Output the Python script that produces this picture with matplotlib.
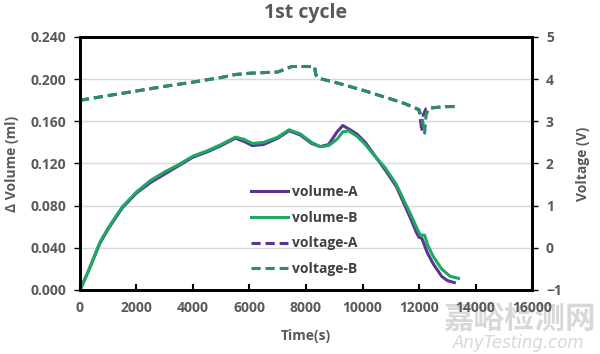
import matplotlib
matplotlib.use('Agg')
import matplotlib.pyplot as plt

# ---- data ----
t_vol_a = [0, 300, 700, 1000, 1500, 2000, 2500, 3000, 3500, 4000, 4500, 5000, 5500, 5800,
           6100, 6500, 7000, 7400, 7800, 8200, 8500, 8800, 9100, 9300, 9500, 9800, 10100,
           10500, 10800, 11200, 11500, 11700, 11900, 12000, 12100, 12300, 12500, 12800, 13000, 13250]
vol_a = [0, 0.018, 0.044, 0.058, 0.078, 0.092, 0.102, 0.110, 0.118, 0.126, 0.131, 0.137, 0.144,
         0.141, 0.137, 0.138, 0.144, 0.151, 0.147, 0.139, 0.136, 0.138, 0.150, 0.156, 0.153,
         0.148, 0.140, 0.125, 0.114, 0.098, 0.080, 0.068, 0.055, 0.050, 0.049, 0.035, 0.025,
         0.013, 0.009, 0.007]

t_vol_b = [0, 300, 700, 1000, 1500, 2000, 2500, 3000, 3500, 4000, 4500, 5000, 5500, 5800,
           6100, 6500, 7000, 7400, 7800, 8200, 8500, 8800, 9100, 9300, 9500, 9800, 10100,
           10500, 10800, 11200, 11500, 11700, 11900, 12050, 12200, 12300, 12500, 12800, 13100, 13400]
vol_b = [0, 0.018, 0.045, 0.059, 0.079, 0.093, 0.104, 0.112, 0.119, 0.127, 0.132, 0.138, 0.145,
         0.143, 0.139, 0.140, 0.145, 0.152, 0.148, 0.140, 0.136, 0.137, 0.143, 0.150, 0.151,
         0.146, 0.138, 0.125, 0.116, 0.100, 0.083, 0.072, 0.060, 0.052, 0.052, 0.043, 0.032,
         0.020, 0.013, 0.011]

t_volt_a = [0, 1000, 2000, 3000, 4000, 5000, 5500, 6000, 7000, 7300, 7500, 8300, 8350, 8450,
            9000, 10000, 11000, 11500, 12000, 12050, 12100, 12150, 12250, 12600, 13000, 13400]
volt_a = [3.50, 3.61, 3.72, 3.83, 3.93, 4.04, 4.11, 4.14, 4.17, 4.25, 4.30, 4.30, 4.10, 4.02,
          3.93, 3.74, 3.53, 3.42, 3.28, 3.05, 2.75, 3.15, 3.30, 3.33, 3.35, 3.35]

t_volt_b = [0, 1000, 2000, 3000, 4000, 5000, 5500, 6000, 7000, 7300, 7500, 8300, 8350, 8450,
            9000, 10000, 11000, 11500, 12000, 12100, 12200, 12250, 12350, 12600, 13000, 13400]
volt_b = [3.50, 3.61, 3.72, 3.83, 3.93, 4.04, 4.11, 4.14, 4.17, 4.25, 4.30, 4.30, 4.10, 4.02,
          3.93, 3.74, 3.53, 3.42, 3.27, 3.10, 2.72, 3.15, 3.31, 3.33, 3.35, 3.35]

x_ticks = [0, 2000, 4000, 6000, 8000, 10000, 12000, 14000, 16000]
vol_ticks = [0.0, 0.04, 0.08, 0.12, 0.16, 0.2, 0.24]
volt_ticks = [-1, 0, 1, 2, 3, 4, 5]

purple = '#5b3590'
green = '#1fa862'
green_dash = '#2a8f62'
txt = '#595959'

plt.rcParams['font.family'] = ['Open Sans', 'DejaVu Sans']
plt.rcParams['font.weight'] = 'bold'

fig = plt.figure(figsize=(6, 3.54), dpi=100)

# watermark first, underneath everything else
fig.text(0.865, 0.1, '嘉峪检测网', fontsize=22, color='#d8d8d8', ha='center', va='center',
         family=['Noto Sans CJK SC', 'DejaVu Sans'], zorder=-5)
fig.text(0.865, 0.03, 'AnyTesting.com', fontsize=12, color='#d8d8d8', ha='center', va='center',
         style='italic', fontweight='normal', family=['DejaVu Sans'], zorder=-5)

ax = fig.add_axes([0.1333, 0.1808, 0.7534, 0.7147])
ax2 = ax.twinx()
ax.patch.set_alpha(0)

ax.grid(axis='y', color='#d9d9d9', linewidth=1)
ax.set_axisbelow(True)

l1, = ax.plot(t_vol_a, vol_a, color=purple, linewidth=2.2, label='volume-A')
l2, = ax.plot(t_vol_b, vol_b, color=green, linewidth=2.2, label='volume-B')
l3, = ax2.plot(t_volt_a, volt_a, color=purple, linewidth=2.2, linestyle=(0, (3, 1.6)), label='voltage-A')
l4, = ax2.plot(t_volt_b, volt_b, color=green_dash, linewidth=2.2, linestyle=(0, (3, 1.6)), label='voltage-B')

ax.set_xlim(0, 16000)
ax.set_ylim(0, 0.24)
ax2.set_ylim(-1, 5)
ax.set_xticks(x_ticks)
ax.set_yticks(vol_ticks)
ax.set_yticklabels([f'{v:.3f}' for v in vol_ticks])
ax2.set_yticks(volt_ticks)

for a in (ax, ax2):
    for s in a.spines.values():
        s.set_linewidth(2)
        s.set_color('black')
ax.tick_params(axis='x', direction='in', length=4, width=1.5, labelsize=10, labelcolor=txt, pad=8)
ax.tick_params(axis='y', direction='out', length=4, width=1, labelsize=10, labelcolor=txt, pad=6)
ax2.tick_params(axis='y', direction='out', length=4, width=1, labelsize=10, labelcolor=txt, pad=6)

ax.set_xlabel('Time(s)', fontsize=10, fontweight='bold', color=txt, labelpad=10)
ax.set_ylabel('Δ Volume (ml)', fontsize=10, fontweight='bold', color=txt, labelpad=8)
ax2.set_ylabel('Voltage (V)', fontsize=10, fontweight='bold', color=txt, labelpad=10)
ax.set_title('1st cycle', fontsize=14, fontweight='bold', color=txt, pad=14)

leg = ax2.legend(handles=[l1, l2, l3, l4], loc='upper left', bbox_to_anchor=(0.35, 0.465),
                 frameon=False, handlelength=2.7, labelspacing=0.85, handletextpad=0.3,
                 prop={'weight': 'bold', 'size': 10})
for t in leg.get_texts():
    t.set_color('#404040')

fig.savefig('out.png', dpi=100)
